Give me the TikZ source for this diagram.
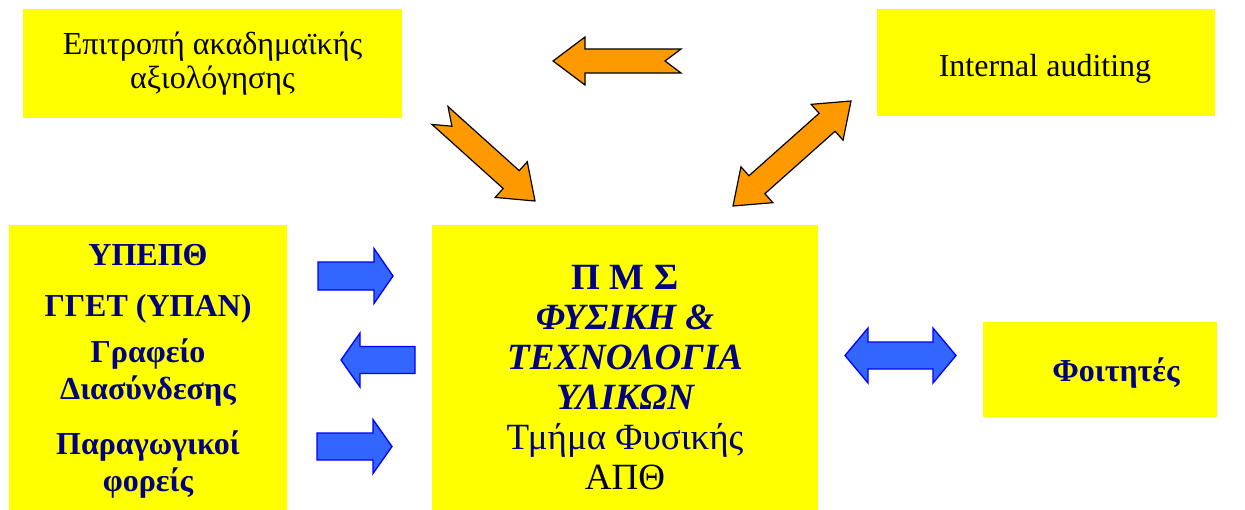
\documentclass[tikz,border=0pt]{standalone}
\usepackage{fontspec}
\setmainfont{Liberation Serif}
\usetikzlibrary{calc}

\definecolor{boxyellow}{RGB}{255,255,0}
\definecolor{arrorange}{RGB}{255,153,0}
\definecolor{arrblue}{RGB}{51,102,255}
\definecolor{pureblue}{RGB}{0,0,255}
\definecolor{navytext}{RGB}{0,0,128}

% block arrow: style, tail, tip, half shaft, half head, head length, notch
\newcommand{\blockarrow}[7]{%
  \path ($(#3)!#6!(#2)$) coordinate (hb);
  \draw[#1] ($(#2)!#4!90:(#3)$) -- ($(hb)!#4!90:(#3)$) -- ($(hb)!#5!90:(#3)$) -- (#3)
    -- ($(hb)!#5!-90:(#3)$) -- ($(hb)!#4!-90:(#3)$) -- ($(#2)!#4!-90:(#3)$)
    -- ($(#2)!#7!(#3)$) -- cycle;}
% double block arrow: style, tip a, tip b, half shaft, half head, head length
\newcommand{\doublearrow}[6]{%
  \path ($(#2)!#6!(#3)$) coordinate (ha) ($(#3)!#6!(#2)$) coordinate (hb);
  \draw[#1] (#2) -- ($(ha)!#5!90:(#3)$) -- ($(ha)!#4!90:(#3)$) -- ($(hb)!#4!90:(#3)$)
    -- ($(hb)!#5!90:(#3)$) -- (#3) -- ($(hb)!#5!-90:(#3)$) -- ($(hb)!#4!-90:(#3)$)
    -- ($(ha)!#4!-90:(#3)$) -- ($(ha)!#5!-90:(#3)$) -- cycle;}

\begin{document}
\begin{tikzpicture}[x=1pt,y=-1pt,
  box/.style={fill=boxyellow,inner sep=0pt,anchor=north west},
  boxtext/.style={inner sep=0pt,align=center},
  orangearrow/.style={fill=arrorange,draw=black,line width=1.2pt,line join=miter},
  bluearrow/.style={fill=arrblue,draw=pureblue,line width=1.3pt,line join=miter}]
\useasboundingbox (0,0) rectangle (1245,509);

% boxes
\node[box,minimum width=379,minimum height=109] (acad) at (23,9) {};
\node[box,minimum width=338,minimum height=107] (audit) at (877,9) {};
\node[box,minimum width=278,minimum height=300] (sources) at (9,225) {};
\node[box,minimum width=386,minimum height=300] (pms) at (432,225) {};
\node[box,minimum width=234,minimum height=95] (students) at (983,322) {};

% texts
\node[boxtext,font=\fontsize{32}{34}\selectfont] (acadtext) at (212.5,63.5)
  {Επιτροπή ακαδημαϊκής\\αξιολόγησης};
\node[boxtext,font=\fontsize{32}{34}\selectfont] (audittext) at (1045,68.5)
  {Internal auditing};
\node[boxtext,text=navytext,font=\fontsize{32}{37}\selectfont\bfseries] (sourcestext) at (148,371)
  {ΥΠΕΠΘ\\[14pt] ΓΓΕΤ (ΥΠΑΝ)\\[9pt] Γραφείο\\ Διασύνδεσης\\[18pt] Παραγωγικοί\\ φορείς};
\node[boxtext,text=navytext,font=\fontsize{37}{40}\selectfont] (pmstext) at (625,378)
  {{\bfseries Π Μ Σ}\\ {\bfseries\itshape ΦΥΣΙΚΗ \&}\\ {\bfseries\itshape ΤΕΧΝΟΛΟΓΙΑ}\\
   {\bfseries\itshape ΥΛΙΚΩΝ}\\ Τμήμα Φυσικής\\ \textcolor{black}{ΑΠΘ}};
\node[boxtext,text=navytext,font=\fontsize{32}{36}\selectfont\bfseries] (studtext) at (1116,373)
  {Φοιτητές};

% orange arrows
\coordinate (evalR) at (681,61);
\coordinate (evalL) at (553,61);
\coordinate (evalT) at (440,115.5);
\coordinate (evalH) at (535,201);
\coordinate (auditA) at (733,206);
\coordinate (auditB) at (851,101);
\blockarrow{orangearrow}{evalR}{evalL}{12pt}{24pt}{32pt}{16pt}
\blockarrow{orangearrow}{evalT}{evalH}{12pt}{24pt}{32pt}{16pt}
\doublearrow{orangearrow}{auditA}{auditB}{12pt}{24pt}{32pt}

% blue arrows
\coordinate (fundT) at (318,276);
\coordinate (fundH) at (393,276);
\coordinate (officeT) at (415,360);
\coordinate (officeH) at (341,360);
\coordinate (prodT) at (317,446.5);
\coordinate (prodH) at (392,446.5);
\coordinate (studA) at (845,355.5);
\coordinate (studB) at (956,355.5);
\blockarrow{bluearrow}{fundT}{fundH}{14pt}{27.5pt}{19pt}{0pt}
\blockarrow{bluearrow}{officeT}{officeH}{13.5pt}{27pt}{19pt}{0pt}
\blockarrow{bluearrow}{prodT}{prodH}{13.5pt}{27pt}{19pt}{0pt}
\doublearrow{bluearrow}{studA}{studB}{13.5pt}{27.5pt}{23pt}
\end{tikzpicture}
\end{document}
